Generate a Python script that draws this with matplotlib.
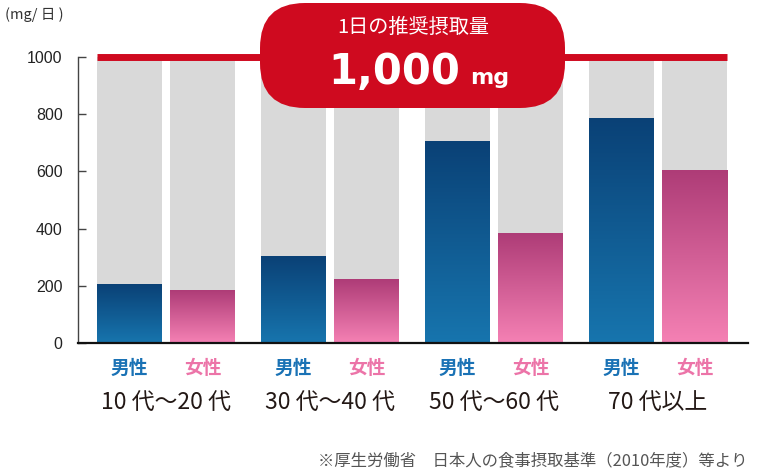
import numpy as np
import matplotlib
matplotlib.use("Agg")
import matplotlib.pyplot as plt
from matplotlib.colors import LinearSegmentedColormap
from matplotlib.patches import FancyBboxPatch

plt.rcParams['font.family'] = ['Noto Sans CJK JP', 'DejaVu Sans']

# ---- data ----
groups = ["10 代〜20 代", "30 代〜40 代", "50 代〜60 代", "70 代以上"]
sexes = ["男性", "女性"]
male = [203, 302, 705, 786]
female = [183, 222, 383, 604]
recommended = 1000
yticks = [0, 200, 400, 600, 800, 1000]
unit_label = "(mg/ 日 )"
badge_title = "1日の推奨摂取量"
badge_value = "1,000"
badge_unit = "mg"
footnote = "※厚生労働省　日本人の食事摂取基準（2010年度）等より"

# ---- style ----
W, H = 757, 472
fig = plt.figure(figsize=(W / 100, H / 100), dpi=100)
ax = fig.add_axes([78 / W, (H - 343) / H, (748 - 78) / W, (343 - 57) / H])

red = "#cf0a1f"
gray = "#d9d9d9"
male_cmap = LinearSegmentedColormap.from_list("m", ["#1775ae", "#0a4176"])
female_cmap = LinearSegmentedColormap.from_list("f", ["#f581b4", "#ae3c77"])
male_text = "#1a72b5"
female_text = "#ec74a8"

bw = 65 / 164
off = 73 / 164 / 2
grad = np.linspace(0, 1, 256).reshape(-1, 1)
xs = np.arange(len(groups))

for i, (m, f) in enumerate(zip(male, female)):
    for x, v, cm in ((i - off, m, male_cmap), (i + off, f, female_cmap)):
        ax.bar(x, recommended, width=bw, color=gray, zorder=1)
        ax.imshow(grad, cmap=cm, origin="lower", aspect="auto",
                  extent=(x - bw / 2, x + bw / 2, 0, v), zorder=2,
                  interpolation="bilinear")

ax.plot([xs[0] - off - bw / 2, xs[-1] + off + bw / 2], [recommended, recommended],
        color=red, lw=5.0, solid_capstyle="butt", zorder=3, clip_on=False)

ax.set_xlim((78 - 166) / 164, (748 - 166) / 164)
ax.set_ylim(0, 1000)
ax.set_yticks(yticks)
ax.set_yticklabels([str(t) for t in yticks], fontsize=11.5, color="#222222",
                   family="Liberation Sans")
ax.tick_params(axis="y", direction="in", length=6, width=1, color="#444444", pad=11)
ax.set_xticks([])
for s in ("top", "right"):
    ax.spines[s].set_visible(False)
ax.spines["left"].set_color("#444444")
ax.spines["left"].set_linewidth(1.0)
ax.spines["bottom"].set_color("#111111")
ax.spines["bottom"].set_linewidth(1.6)

# sex and group labels
for i in xs:
    ax.annotate(sexes[0], (i - off, H - 368), xycoords=("data", "figure pixels"),
                ha="center", va="center", fontsize=13.5, fontweight="bold", color=male_text)
    ax.annotate(sexes[1], (i + off, H - 368), xycoords=("data", "figure pixels"),
                ha="center", va="center", fontsize=13.5, fontweight="bold", color=female_text)
    ax.annotate(groups[i], (i, H - 402), xycoords=("data", "figure pixels"),
                ha="center", va="center", fontsize=16.5, color="#231815")

# overlay in pixel coordinates
ov = fig.add_axes([0, 0, 1, 1], facecolor="none")
ov.set_xlim(0, W)
ov.set_ylim(H, 0)
ov.axis("off")

ov.text(5, 15, unit_label, fontsize=10.5, color="#333333", ha="left", va="center")

badge = FancyBboxPatch((260 + 45, 3 + 45), 305 - 90, 105 - 90,
                       boxstyle="round,pad=45", fc=red, ec="none", zorder=5)
ov.add_patch(badge)
ov.text(413, 27.5, badge_title, fontsize=14.5, color="white",
        ha="center", va="center", zorder=6)
ov.text(328, 84, badge_value, fontsize=30, fontweight="bold", color="white",
        ha="left", va="baseline", family="DejaVu Sans", zorder=6)
ov.text(470, 84, badge_unit, fontsize=16, fontweight="bold", color="white",
        ha="left", va="baseline", family="DejaVu Sans", zorder=6)

ov.text(748, 461, footnote, fontsize=11.8, color="#555555", ha="right", va="center")

fig.savefig("out.png", dpi=100)
